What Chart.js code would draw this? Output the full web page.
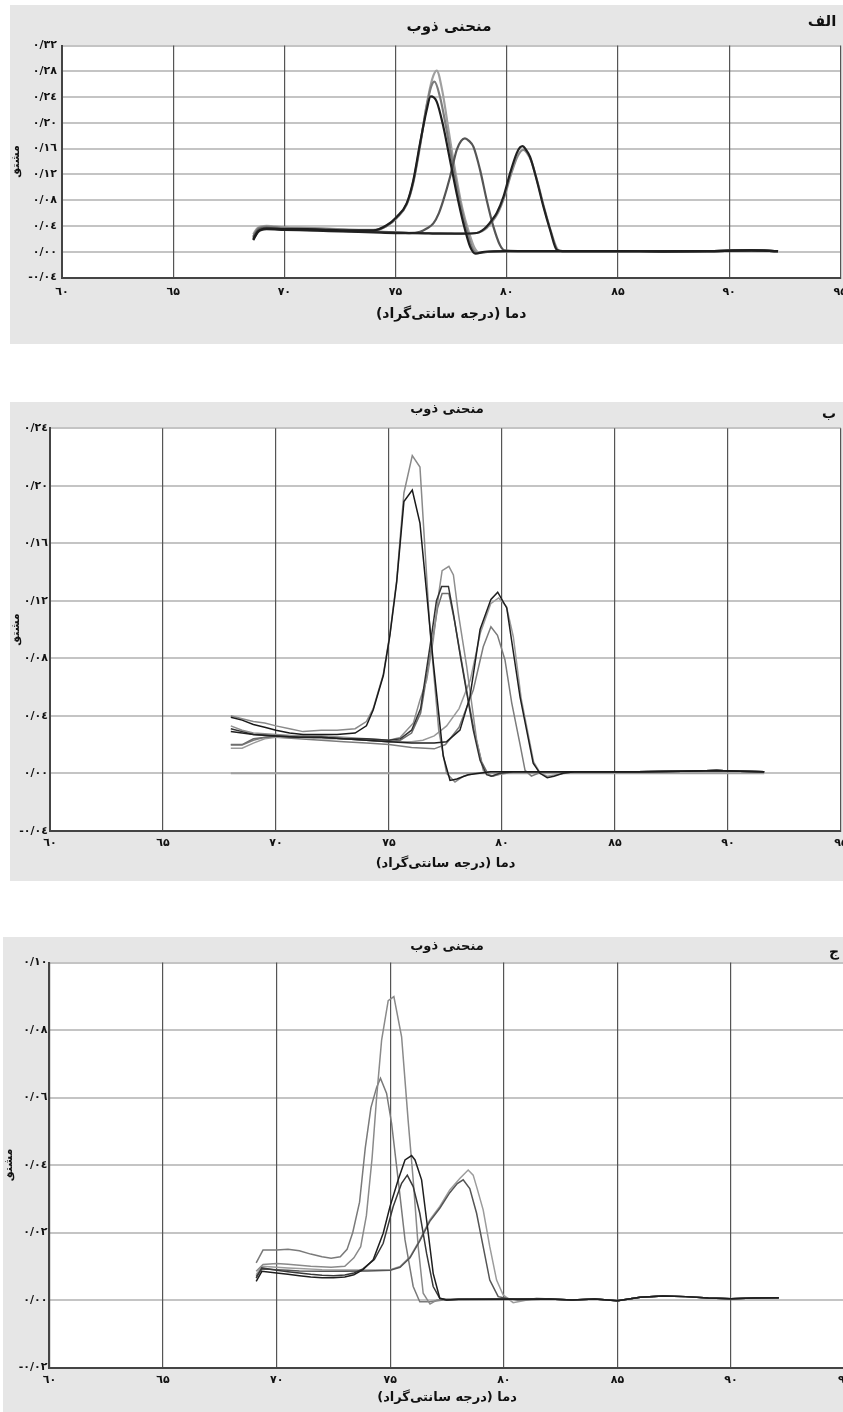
<!DOCTYPE html>
<html lang="fa">
<head>
<meta charset="utf-8">
<title>منحنی ذوب</title>
<script src="https://cdn.jsdelivr.net/npm/chart.js@4.4.1/dist/chart.umd.min.js"></script>
<style>
    html, body { margin: 0; padding: 0; background: #fff; }
    body { width: 843px; height: 1412px; overflow: hidden; position: relative; }
    canvas { position: absolute; }
    #chartA { left: 10px; top: 5px; }
    #chartB { left: 10px; top: 402px; }
    #chartC { left: 3px; top: 937px; }
</style>
</head>
<body>
<canvas id="chartA" width="870" height="339"></canvas>
<canvas id="chartB" width="870" height="479"></canvas>
<canvas id="chartC" width="877" height="475"></canvas>

<script>
// ---- Data: [temperature °C, derivative] ----

// Panel الف
const curveA1 = [[68.6,0.019],[68.8,0.031],[69.2,0.036],[70,0.035],[71,0.035],[72,0.034],[73,0.033],[74,0.033],[74.6,0.041],[75.05,0.054],[75.5,0.075],[75.8,0.111],[76.1,0.168],[76.4,0.220],[76.58,0.241],[76.85,0.233],[77.15,0.194],[77.45,0.142],[77.75,0.090],[78.05,0.044],[78.35,0.008],[78.6,-0.003],[79,0],[80,0.001],[81,0.001],[82,0.001]];
const curveA2 = [[68.6,0.027],[68.8,0.037],[69.2,0.040],[70,0.038],[71,0.037],[72,0.036],[73,0.034],[74,0.034],[74.6,0.040],[75.05,0.052],[75.5,0.073],[75.8,0.107],[76.1,0.163],[76.4,0.228],[76.65,0.268],[76.85,0.281],[77.1,0.250],[77.4,0.185],[77.7,0.122],[78,0.068],[78.3,0.030],[78.55,0.006],[78.8,-0.002],[79.2,0],[80,0.001],[81,0.001],[82,0.001]];
const curveA3 = [[68.6,0.024],[68.8,0.035],[69.2,0.039],[70,0.037],[71,0.036],[72,0.035],[73,0.034],[74,0.033],[74.6,0.040],[75.05,0.053],[75.5,0.074],[75.8,0.109],[76.1,0.166],[76.4,0.226],[76.6,0.256],[76.75,0.264],[77,0.240],[77.3,0.188],[77.6,0.130],[77.9,0.076],[78.2,0.034],[78.45,0.006],[78.7,-0.002],[79.1,0],[80,0.001],[81,0.001],[82,0.001]];
const curveA4 = [[68.6,0.022],[68.8,0.033],[69.2,0.037],[70,0.035],[71,0.034],[72,0.033],[73,0.032],[74,0.031],[75,0.030],[75.6,0.029],[76.1,0.031],[76.4,0.036],[76.7,0.044],[76.95,0.060],[77.15,0.080],[77.45,0.116],[77.75,0.158],[77.95,0.172],[78.12,0.176],[78.3,0.172],[78.5,0.163],[78.8,0.127],[79.1,0.080],[79.4,0.039],[79.7,0.010],[79.9,0.002],[80.5,0.001],[81.5,0.001],[82.5,0.001]];
const curveA5 = [[68.6,0.018],[68.8,0.030],[69.2,0.035],[70,0.034],[71,0.033],[72,0.032],[73,0.031],[74,0.030],[75,0.029],[76,0.029],[77,0.028],[78,0.028],[78.65,0.029],[78.9,0.033],[79.1,0.039],[79.35,0.050],[79.55,0.060],[79.85,0.085],[80.15,0.122],[80.45,0.153],[80.6,0.162],[80.72,0.164],[80.85,0.159],[81.05,0.147],[81.35,0.111],[81.65,0.070],[81.95,0.034],[82.25,0.003],[82.5,0.001]];
const curveA6 = [[68.6,0.021],[68.8,0.032],[69.2,0.036],[70,0.035],[71,0.034],[72,0.033],[73,0.032],[74,0.031],[75,0.030],[76,0.029],[77,0.029],[78,0.028],[78.65,0.029],[78.9,0.032],[79.1,0.037],[79.35,0.047],[79.6,0.060],[79.9,0.086],[80.2,0.121],[80.5,0.149],[80.75,0.158],[80.9,0.154],[81.1,0.141],[81.4,0.106],[81.7,0.066],[82,0.030],[82.3,0.003],[82.5,0.001]];
const tailA = [[83,0.001],[85,0.001],[87,0.0005],[89,0.001],[91,0.002],[92.2,0.001]];

// Panel ب
const curveB1 = [[68,0.040],[68.5,0.038],[69,0.036],[69.5,0.035],[70,0.033],[70.6,0.031],[71.2,0.029],[72,0.030],[72.7,0.030],[73.5,0.031],[74,0.036],[74.3,0.045],[74.75,0.069],[75.04,0.097],[75.34,0.134],[75.66,0.195],[76.03,0.221],[76.37,0.213],[76.81,0.100],[77.2,0.030],[77.55,0.000],[77.92,-0.006],[78.3,-0.002],[78.8,0],[79.5,0.001]];
const curveB2 = [[68,0.039],[68.5,0.037],[69,0.034],[69.5,0.032],[70,0.030],[70.6,0.028],[71.2,0.027],[72,0.027],[72.7,0.027],[73.5,0.028],[74,0.033],[74.3,0.044],[74.75,0.068],[75.04,0.096],[75.34,0.133],[75.66,0.189],[76.03,0.197],[76.37,0.174],[76.96,0.077],[77.4,0.012],[77.7,-0.005],[78,-0.004],[78.5,-0.001],[79,0],[79.5,0.001]];
const curveB3 = [[68,0.033],[68.5,0.030],[69,0.028],[70,0.027],[71,0.026],[72,0.026],[73,0.025],[74,0.024],[75,0.023],[75.5,0.025],[76.08,0.035],[76.37,0.051],[76.67,0.065],[76.96,0.093],[77.2,0.125],[77.35,0.141],[77.65,0.144],[77.85,0.138],[78.07,0.111],[78.44,0.074],[78.88,0.023],[79.17,0.002],[79.5,-0.002],[79.8,-0.001],[80.2,0],[80.6,0.001]];
const curveB4 = [[68,0.031],[68.5,0.029],[69,0.027],[70,0.026],[71,0.025],[72,0.025],[73,0.024],[74,0.024],[75,0.023],[75.5,0.024],[76,0.030],[76.4,0.045],[76.81,0.088],[77.1,0.120],[77.33,0.130],[77.63,0.130],[77.85,0.111],[78.14,0.083],[78.44,0.056],[78.73,0.030],[79.03,0.009],[79.32,-0.001],[79.54,-0.002],[79.9,0],[80.5,0.001]];
const curveB5 = [[68,0.020],[68.5,0.020],[69,0.024],[70,0.026],[71,0.026],[72,0.025],[73,0.024],[74,0.023],[75,0.022],[75.5,0.023],[76,0.028],[76.4,0.042],[76.85,0.085],[77.15,0.115],[77.35,0.125],[77.65,0.125],[77.9,0.106],[78.2,0.079],[78.5,0.052],[78.8,0.027],[79.1,0.008],[79.4,-0.001],[79.6,-0.002],[80,0],[80.5,0.001]];
const curveB6 = [[68,0.029],[68.5,0.028],[69,0.027],[70,0.026],[71,0.025],[72,0.025],[73,0.024],[74,0.023],[75,0.022],[76,0.021],[77,0.021],[77.55,0.022],[78.14,0.030],[78.58,0.053],[79.03,0.100],[79.51,0.121],[79.81,0.126],[80.21,0.115],[80.8,0.053],[81.38,0.007],[81.68,0],[82,-0.003],[82.3,-0.002],[82.7,0],[83.2,0.001]];
const curveB7 = [[68,0.0174],[68.5,0.0174],[69,0.021],[69.5,0.024],[70,0.025],[71,0.025],[72,0.024],[73,0.024],[74,0.023],[75,0.022],[76,0.022],[76.5,0.023],[77,0.026],[77.55,0.033],[78.1,0.045],[78.6,0.065],[79.05,0.098],[79.5,0.118],[79.85,0.122],[80.2,0.116],[80.5,0.095],[80.85,0.052],[81.4,0.008],[81.7,0],[82,-0.002],[82.4,-0.001],[82.8,0],[83.2,0.001]];
const curveB8 = [[68,0.0197],[68.5,0.0197],[69,0.023],[69.5,0.025],[70,0.025],[71,0.024],[72,0.023],[73,0.022],[74,0.021],[75,0.020],[76,0.018],[77,0.017],[77.5,0.020],[78.1,0.032],[78.73,0.058],[79.17,0.088],[79.51,0.102],[79.8,0.096],[80.13,0.079],[80.43,0.049],[80.8,0.020],[81.02,0.002],[81.3,-0.002],[81.6,0],[82,0.001]];
const flatB = [[68,0],[91.6,0]];
const tailB = [[84,0.001],[86,0.001],[88,0.0015],[89.5,0.002],[90.5,0.0015],[91.6,0.001]];

// Panel ج
const curveC1 = [[69.1,0.0085],[69.4,0.0105],[70,0.0108],[70.5,0.0106],[71.5,0.0100],[72.4,0.0097],[73,0.0100],[73.4,0.0125],[73.7,0.0158],[73.95,0.025],[74.2,0.042],[74.4,0.060],[74.62,0.077],[74.91,0.0887],[75.16,0.0899],[75.5,0.078],[75.79,0.053],[76.01,0.0356],[76.23,0.0158],[76.45,0.002],[76.75,-0.0012],[77.05,0],[77.5,0.0003]];
const curveC2 = [[69.1,0.011],[69.4,0.0148],[70,0.0148],[70.5,0.0150],[71,0.0146],[71.5,0.0136],[72,0.0128],[72.4,0.0124],[72.8,0.0128],[73.1,0.0150],[73.35,0.020],[73.65,0.029],[73.9,0.045],[74.15,0.057],[74.4,0.063],[74.57,0.0657],[74.84,0.0612],[75.06,0.0523],[75.35,0.0356],[75.65,0.0178],[76.01,0.004],[76.3,-0.0005],[76.74,-0.0005],[77.33,0]];
const curveC3 = [[69.1,0.0055],[69.35,0.0085],[70,0.0080],[70.5,0.0076],[71,0.0072],[71.5,0.0068],[72,0.0066],[72.5,0.0066],[73,0.0068],[73.4,0.0075],[73.8,0.0090],[74.25,0.0119],[74.69,0.0198],[74.99,0.0277],[75.35,0.0356],[75.65,0.0415],[75.94,0.0428],[76.09,0.0415],[76.38,0.0356],[76.6,0.0237],[76.89,0.0079],[77.18,0.0005],[77.48,0],[78,0.0002]];
const curveC4 = [[69.1,0.0065],[69.35,0.0095],[70,0.0088],[70.5,0.0084],[71,0.0080],[71.5,0.0076],[72,0.0073],[72.5,0.0072],[73,0.0074],[73.4,0.0080],[73.8,0.0092],[74.3,0.0120],[74.69,0.0168],[75.13,0.0277],[75.5,0.0346],[75.75,0.037],[76.01,0.0336],[76.3,0.0257],[76.6,0.0138],[76.89,0.004],[77.18,0.0005],[77.5,0],[78,0.0002]];
const curveC5 = [[69.1,0.0075],[69.35,0.0100],[70,0.0097],[70.5,0.0095],[71,0.0093],[72,0.0090],[73,0.0089],[74,0.0089],[75,0.0090],[75.43,0.0099],[75.87,0.0128],[76.3,0.0178],[76.74,0.0237],[77.18,0.0277],[77.62,0.0326],[78.06,0.036],[78.43,0.0385],[78.65,0.037],[78.8,0.0336],[79.09,0.0267],[79.38,0.0158],[79.68,0.0059],[79.97,0.0015],[80.41,-0.0008],[80.85,-0.0002],[81.44,0.0005]];
const curveC6 = [[69.1,0.0070],[69.35,0.0092],[70,0.0090],[70.5,0.0088],[71,0.0086],[72,0.0085],[73,0.0085],[74,0.0086],[75,0.0088],[75.43,0.0097],[75.87,0.0125],[76.3,0.0175],[76.74,0.0233],[77.18,0.0272],[77.62,0.0318],[77.95,0.0345],[78.21,0.0356],[78.5,0.033],[78.8,0.0257],[79.09,0.0158],[79.38,0.0059],[79.75,0.001],[80.1,0.0005],[80.6,0]];
const tailC = [[82,0.0003],[83,0],[84,0.0003],[85,-0.0002],[86,0.0008],[87,0.0012],[88,0.0010],[89,0.0006],[90,0.0004],[91,0.0006],[92.1,0.0007]];

// Axis ranges / text
const xRange = [60, 95, 5];
const yRangeA = [-0.04, 0.32, 0.04];
const yRangeB = [-0.04, 0.24, 0.04];
const yRangeC = [-0.02, 0.10, 0.02];
const faDigits = ['۰', '۱', '۲', '۳', '٤', '۵', '٦', '۷', '۸', '۹'];
const chartTitle = 'منحنی ذوب';
const xTitle = 'دما (درجه سانتی‌گراد)\u200F';
const yTitle = 'مشتق';

const FONT = "'DejaVu Sans', sans-serif";

// Helper: latin digits -> persian
function toFa(str) {
    return str.replace(/[0-9]/g, d => faDigits[+d]);
}

// Helper: 0.12 -> ۰/۱۲
function fmtY(v) {
    const n = Math.round(Math.abs(v) * 100);
    const s = '0/' + String(n).padStart(2, '0');
    return toFa((v < -1e-9 ? '-' : '') + s);
}

function line(points, tail, color, width) {
    return {
        data: points.concat(tail).map(([x, y]) => ({ x, y })),
        borderColor: color,
        borderWidth: width,
        pointRadius: 0,
        fill: false,
    };
}

// gray panel + white plot area + title and panel letter
const panelPlugin = {
    id: 'panelText',
    beforeDraw(chart, args, o) {
        const { ctx, chartArea: a } = chart;
        ctx.save();
        ctx.fillStyle = '#e6e6e6';
        ctx.fillRect(0, 0, chart.width, chart.height);
        ctx.fillStyle = '#fff';
        ctx.fillRect(a.left, a.top, a.right - a.left, a.bottom - a.top);
        ctx.fillStyle = '#111';
        ctx.textAlign = 'center';
        ctx.textBaseline = 'middle';
        ctx.font = `bold ${o.titleSize}px ${FONT}`;
        ctx.fillText(o.title, o.titleX, o.titleY);
        ctx.font = `bold ${o.letterSize}px ${FONT}`;
        ctx.fillText(o.letter, o.letterX, o.letterY);
        ctx.restore();
    }
};

function makeChart(id, datasets, yRange, lay, text, smooth) {
    return new Chart(document.getElementById(id), {
        type: 'line',
        data: { datasets },
        plugins: [panelPlugin],
        options: {
            responsive: false,
            animation: false,
            events: [],
            layout: { padding: { left: 0, top: lay.top, right: lay.right, bottom: lay.bottom } },
            elements: {
                line: smooth ? { cubicInterpolationMode: 'monotone' } : { tension: 0 },
            },
            plugins: {
                legend: { display: false },
                tooltip: { enabled: false },
                panelText: text,
            },
            scales: {
                y: {
                    type: 'linear',
                    min: yRange[0], max: yRange[1],
                    ticks: {
                        stepSize: yRange[2], callback: fmtY, padding: lay.yPad,
                        color: '#111', autoSkip: false,
                        font: { family: FONT, size: 11, weight: 'bold' },
                    },
                    grid: { color: '#c4c4c4', lineWidth: 2, drawTicks: false },
                    border: { color: '#444', width: 2 },
                    title: {
                        display: true, text: yTitle, color: '#111', padding: 0,
                        font: { family: FONT, size: 11, weight: 'bold' },
                    },
                    afterFit: s => { s.width = lay.yWidth; },
                },
                x: {
                    type: 'linear',
                    min: xRange[0], max: xRange[1],
                    ticks: {
                        stepSize: xRange[2], padding: lay.xPad, maxRotation: 0, autoSkip: false,
                        callback: v => toFa(String(v)),
                        color: '#111',
                        font: { family: FONT, size: 11, weight: 'bold' },
                    },
                    grid: { color: '#555', lineWidth: 1.2, drawTicks: false },
                    border: { color: '#444', width: 2 },
                    title: {
                        display: true, text: xTitle, color: '#111', padding: 0,
                        font: { family: FONT, size: lay.xTitleSize, weight: 'bold' },
                    },
                    afterFit: s => { s.height = lay.xHeight; },
                },
            },
        },
    });
}

// الف
makeChart('chartA', [
    line(curveA1, tailA, '#1e1e1e', 2.2),
    line(curveA5, tailA, '#222', 2.2),
    line(curveA4, tailA, '#555', 2.2),
    line(curveA3, tailA, '#7c7c7c', 2.2),
    line(curveA6, tailA, '#8a8a8a', 2.2),
    line(curveA2, tailA, '#a0a0a0', 2.2),
], yRangeA,
{ top: 40.5, right: 39.7, bottom: 21.6, yWidth: 52, yPad: 5, xPad: 8, xHeight: 44.9, xTitleSize: 14 },
{ title: chartTitle, titleSize: 15, titleX: 439, titleY: 22, letter: 'الف', letterSize: 15, letterX: 812, letterY: 17 },
true);

// ب
makeChart('chartB', [
    line(curveB2, tailB, '#1a1a1a', 1.5),
    line(curveB6, tailB, '#1f1f1f', 1.5),
    line(curveB4, tailB, '#333', 1.5),
    line(curveB1, tailB, '#8a8a8a', 1.5),
    line(curveB3, tailB, '#8e8e8e', 1.5),
    line(curveB5, tailB, '#6e6e6e', 1.5),
    line(curveB7, tailB, '#9a9a9a', 1.5),
    line(curveB8, tailB, '#7c7c7c', 1.5),
    line(flatB, [], '#a0a0a0', 2),
], yRangeB,
{ top: 26.3, right: 39, bottom: 9.2, yWidth: 40, yPad: 2, xPad: 5.6, xHeight: 41, xTitleSize: 13 },
{ title: chartTitle, titleSize: 13, titleX: 437, titleY: 8, letter: 'ب', letterSize: 14, letterX: 819, letterY: 12 },
false);

// ج
makeChart('chartC', [
    line(curveC3, tailC, '#1e1e1e', 1.5),
    line(curveC4, tailC, '#383838', 1.5),
    line(curveC6, tailC, '#555', 1.5),
    line(curveC1, tailC, '#8a8a8a', 1.5),
    line(curveC2, tailC, '#7a7a7a', 1.5),
    line(curveC5, tailC, '#9c9c9c', 1.5),
], yRangeC,
{ top: 25.5, right: 35.3, bottom: 6.2, yWidth: 46.4, yPad: 2, xPad: 5.9, xHeight: 38.3, xTitleSize: 13 },
{ title: chartTitle, titleSize: 13, titleX: 444, titleY: 10, letter: 'ج', letterSize: 14, letterX: 831, letterY: 15 },
false);
</script>
</body>
</html>
